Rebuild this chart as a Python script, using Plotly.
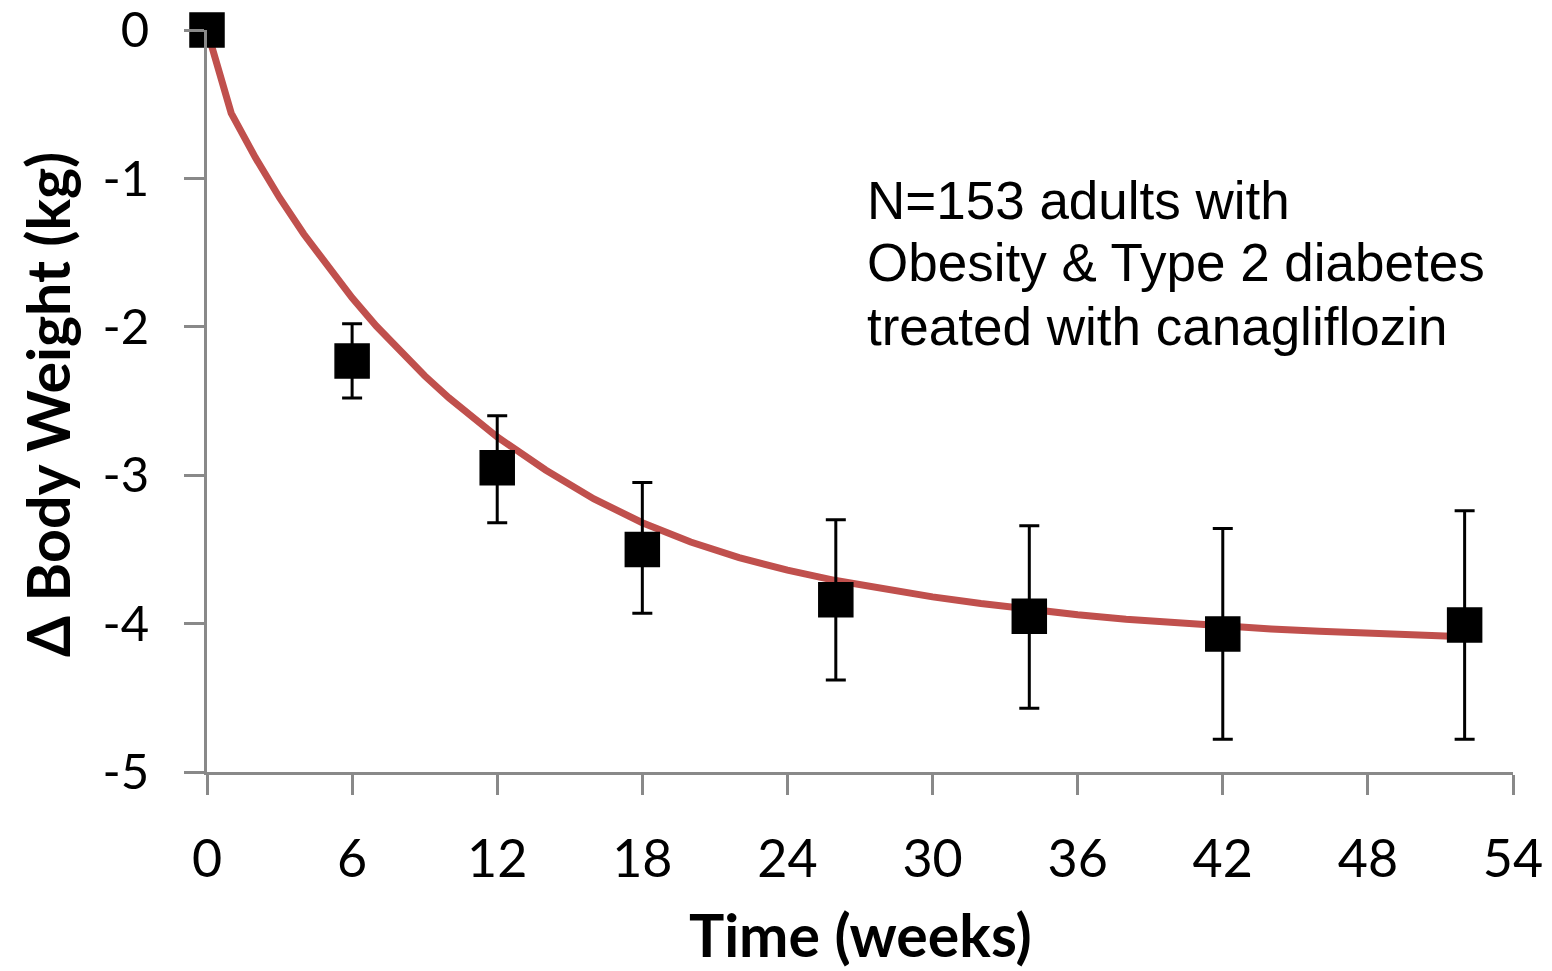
import plotly.graph_objects as go

# ---- data ----
weeks = [0, 6, 12, 18, 26, 34, 42, 52]
weight_change = [0.0, -2.23, -2.95, -3.50, -3.84, -3.95, -4.07, -4.01]
err_plus = [0.0, 0.25, 0.35, 0.45, 0.54, 0.61, 0.71, 0.77]
err_minus = [0.0, 0.25, 0.37, 0.43, 0.54, 0.62, 0.71, 0.77]

fit_weeks = [0, 1, 2, 3, 4, 5, 6, 7, 8, 9, 10, 11, 12, 14, 16, 18, 20, 22, 24,
             26, 28, 30, 32, 34, 36, 38, 40, 42, 44, 46, 48, 50, 52]
fit_values = [0.0, -0.56, -0.86, -1.13, -1.375, -1.60, -1.805, -1.995, -2.17,
              -2.33, -2.478, -2.615, -2.742, -2.965, -3.16, -3.32, -3.45,
              -3.555, -3.64, -3.71, -3.77, -3.82, -3.865, -3.905, -3.94,
              -3.97, -3.995, -4.017, -4.036, -4.052, -4.066, -4.078, -4.088]

x_ticks = [0, 6, 12, 18, 24, 30, 36, 42, 48, 54]
y_ticks = [0, -1, -2, -3, -4, -5]
y_tick_text = ["0", "-1", "-2", "-3", "-4", "-5"]

note_lines = ["N=153 adults with", "Obesity & Type 2 diabetes",
              "treated with canagliflozin"]

AX = "#898989"
XTICKFONT = dict(family="Lato, Carlito, Calibri, sans-serif", size=52, color="black")
YTICKFONT = dict(family="Lato, Carlito, Calibri, sans-serif", size=49, color="black")

fig = go.Figure()
fig.add_trace(go.Scatter(
    x=fit_weeks, y=fit_values, mode="lines",
    line=dict(color="#C0504D", width=7),
    cliponaxis=False, showlegend=False, hoverinfo="skip"))
fig.add_trace(go.Scatter(
    x=weeks, y=weight_change, mode="markers",
    marker=dict(symbol="square", size=34, color="black",
                line=dict(color="black", width=1.5)),
    error_y=dict(type="data", symmetric=False, array=err_plus,
                 arrayminus=err_minus, color="black", thickness=3, width=10),
    cliponaxis=False, showlegend=False))

fig.update_layout(
    width=1552, height=971,
    margin=dict(l=207, r=39, t=30, b=199, autoexpand=False),
    paper_bgcolor="white", plot_bgcolor="white",
    xaxis=dict(range=[0, 54], tickvals=x_ticks, showline=True, linecolor=AX,
               linewidth=3, ticks="outside", ticklen=20, tickwidth=3,
               tickcolor=AX, showgrid=False, zeroline=False,
               tickfont=XTICKFONT, ticklabelstandoff=20,
               ticklabeloverflow="allow", automargin=False),
    yaxis=dict(range=[-5, 0], tickvals=y_ticks, ticktext=y_tick_text,
               showline=True, linecolor=AX,
               linewidth=3, ticks="outside", ticklen=20, tickwidth=3,
               tickcolor=AX, showgrid=False, zeroline=False,
               tickfont=YTICKFONT, ticklabelstandoff=25,
               ticklabeloverflow="allow", automargin=False),
)

line_y = [-1.146, -1.57, -2.0]
for txt, yy in zip(note_lines, line_y):
    fig.add_annotation(x=27.2, y=yy, xref="x", yref="y", text=txt,
                       showarrow=False, xanchor="left", yanchor="middle",
                       font=dict(family="Liberation Sans, Arial, sans-serif",
                                 size=53, color="black"))

fig.add_annotation(x=0.5, y=-0.2185, xref="paper", yref="paper",
                   text="<b>Time (weeks)</b>", showarrow=False,
                   xanchor="center", yanchor="middle",
                   font=dict(family="Lato, Carlito, Calibri, sans-serif",
                             size=59, color="black"))
fig.add_annotation(x=-0.1218, y=0.496, xref="paper", yref="paper",
                   text="<b>Δ Body Weight (kg)</b>", showarrow=False,
                   textangle=-90, xanchor="center", yanchor="middle",
                   font=dict(family="Lato, Carlito, Calibri, sans-serif",
                             size=59, color="black"))

fig.write_html("out.html")
